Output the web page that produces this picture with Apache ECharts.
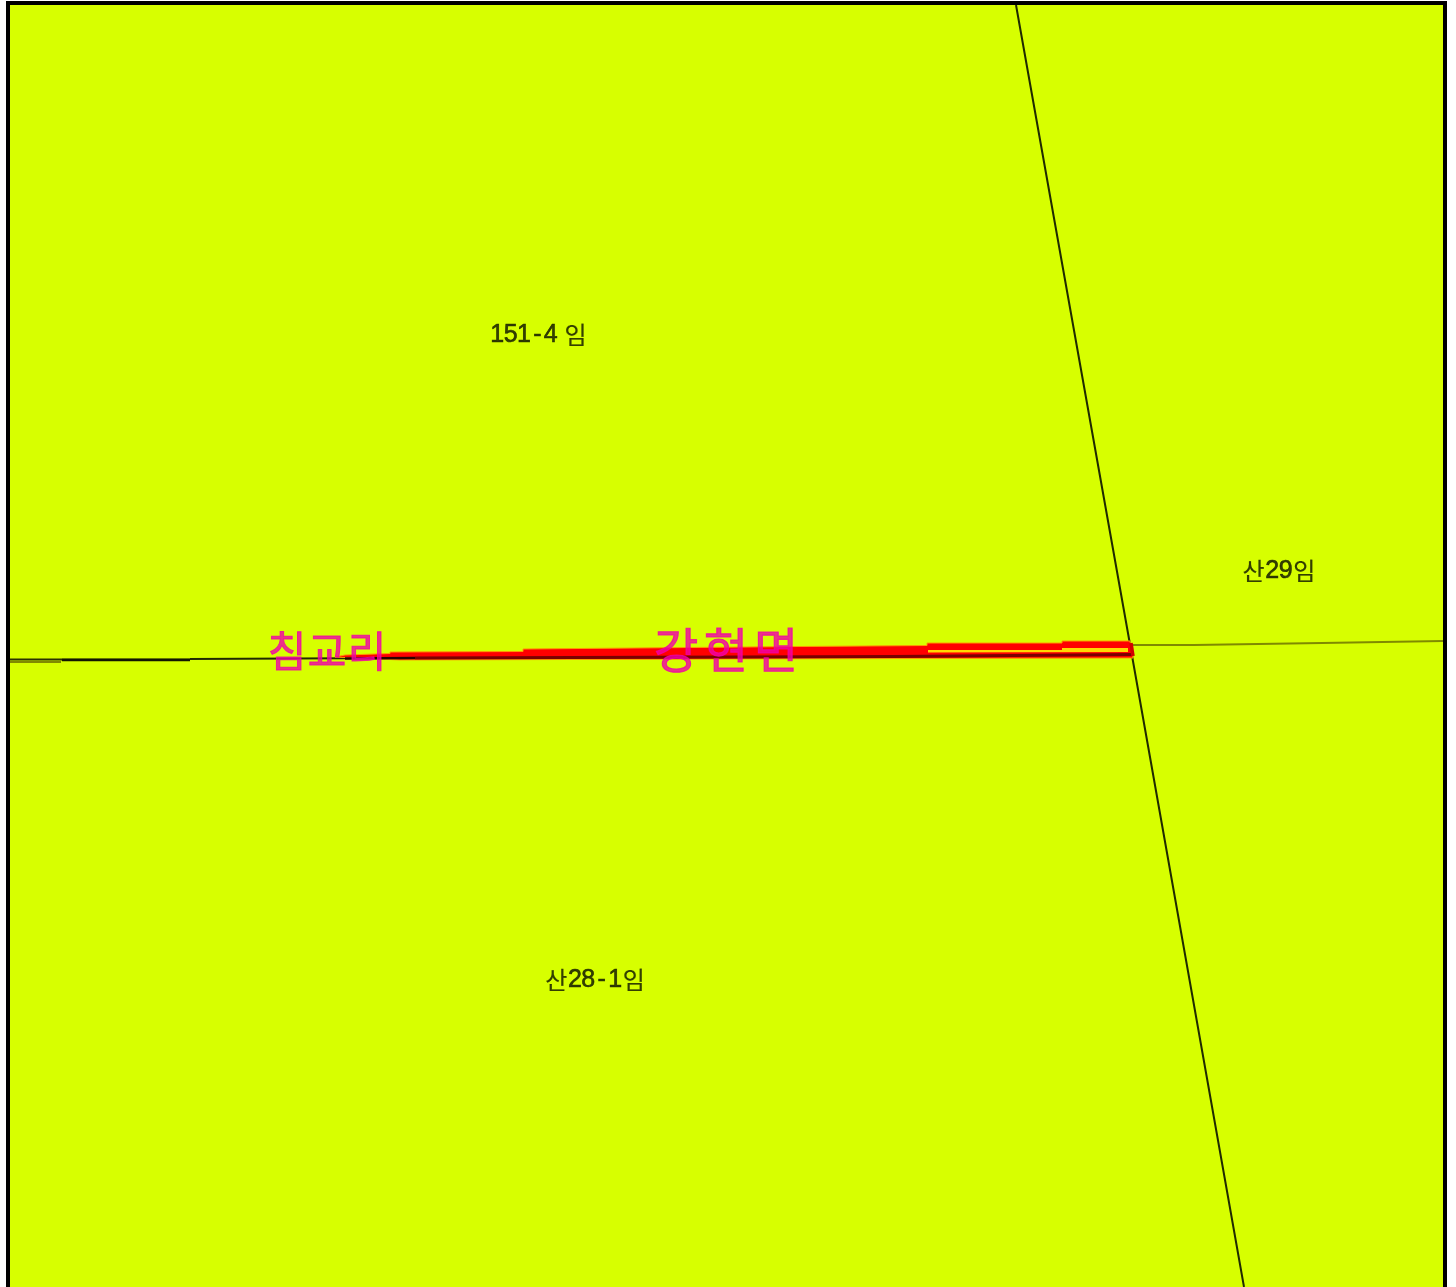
<!DOCTYPE html>
<html><head><meta charset="utf-8">
<style>html,body{margin:0;padding:0;background:#fff}#c{width:1456px;height:1287px}canvas{filter:blur(.5px)}</style>
<script src="https://cdn.jsdelivr.net/npm/echarts@6/dist/echarts.min.js"></script>
</head><body><div id="c"></div>
<script>
const parcelArea=[[8,3],[1445,3],[1445,1287],[8,1287]];
const frame=[[8,1287],[8,3],[1445,3],[1445,1287]];
const boundaryNS=[[1016,5],[1131,650],[1244,1287]];
const oliveEast=[[1133,645],[1194,645],[1194,643],[1322,643],[1322,641],[1443,641]];
const oliveWest=[[10,662],[61,662]];
const blackWest=[[10,659.5],[190,659.5]];
const blackWestThin=[[190,659],[400,658]];
const blackWestHeavy=[[62,660],[190,660]];
const redBand=[[335,657],[345,655],[390,653.5],[390,652],[523,651.5],[523,649],[800,646.5],[927,645.5],[927,643],[1062,643],[1062,641],[1130,641],[1133,658],[893,658.5],[400,660]];
const yellowGap=[[928,650],[1062,650],[1062,648],[1128,648],[1128,652],[928,652.5]];
const darkRedWest=[[345,658.5],[415,658]];
const darkRed=[[415,658],[893,656.5],[1132,654.5]];
const redEnd=[[1131,643],[1133,656]];
const smallLabels=[[539,335,'151-4 임'],[1279,571,'산29임'],[595,980,'산28-1임']];
const placeLabels=[[327,651,'침교리','a'],[726,650,'강현면','b']];

const poly=(pts,fill,stroke,w)=>({type:'custom',coordinateSystem:'cartesian2d',silent:true,
  data:[0],clip:false,
  renderItem:(p,api)=>({type:'polygon',shape:{points:pts.map(q=>api.coord(q))},
    style:{fill:fill,stroke:stroke,lineWidth:w}})});
const line=(pts,color,w,z)=>({type:'line',data:pts,showSymbol:false,symbol:'none',silent:true,z:z,clip:false,
  lineStyle:{color:color,width:w,cap:'butt',join:'miter'}});
const sans='"Liberation Sans"';
const cjk='"Noto Sans CJK KR"';
const ink='#0a0f00', pink='#f000a8';
const tok=s=>s.split('').map(c=>c===' '?'{s| }':(/[가-힣]/.test(c)?'{h|'+c+'}':'{d|'+c+'}')).join('');
const chart=echarts.init(document.getElementById('c'),null,{renderer:'canvas'});
chart.setOption({
  animation:false,backgroundColor:'#ffffff',
  grid:{left:0,right:0,top:0,bottom:0},
  xAxis:{type:'value',min:0,max:1456,show:false},
  yAxis:{type:'value',min:0,max:1287,inverse:true,show:false},
  series:[
    Object.assign(poly(parcelArea,'#d7ff00',null,0),{z:1}),
    line(boundaryNS,'#1f2a00',2,3),
    line(oliveEast,'#7f8a00',2,3),
    line(blackWestThin,'#222a00',1.8,3),
    line(blackWest,'#2a3200',1.8,3),
    line(blackWestHeavy,'#111500',2.6,3),
    line(oliveWest,'#808a00',2,3),
    Object.assign(poly(redBand,'#ff0000','#ff9a00',1),{z:4}),
    Object.assign(poly(yellowGap,'#ffd800',null,0),{z:5}),
    line(darkRedWest,'#2a0000',2.6,6),
    line(darkRed,'#7a0000',3,6),
    line(redEnd,'#d00000',3.5,6),
    line(frame,'#000000',4,8),
    {type:'scatter',data:smallLabels,symbolSize:0,silent:true,z:10,
     label:{show:true,position:'inside',formatter:p=>tok(p.data[2]),
       rich:{
         d:{fontFamily:sans,fontSize:25,color:ink,width:13.4,align:'center',textBorderColor:ink,textBorderWidth:0.6},
         h:{fontFamily:cjk,fontSize:24,color:ink,width:24,align:'center',textBorderColor:ink,textBorderWidth:0.2},
         s:{fontFamily:cjk,fontSize:12,width:6}
       }}},
    {type:'scatter',symbolSize:0,silent:true,z:11,data:placeLabels,
     label:{show:true,position:'inside',
       formatter:p=>p.data[2].split('').map(c=>'{'+p.data[3]+'|'+c+'}').join(''),
       rich:{
         a:{fontFamily:cjk,fontSize:42,color:pink,width:40,align:'center',textBorderColor:pink,textBorderWidth:1},
         b:{fontFamily:cjk,fontSize:48,color:pink,width:50,align:'center',textBorderColor:pink,textBorderWidth:1.2}
       }}}
  ]
});
</script></body></html>
